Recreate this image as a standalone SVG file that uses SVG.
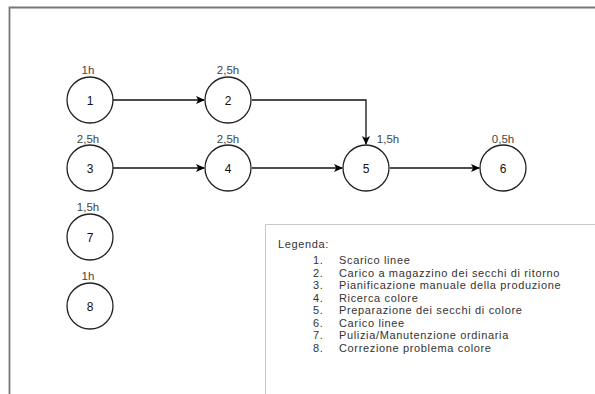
<svg xmlns="http://www.w3.org/2000/svg" width="595" height="394" viewBox="0 0 595 394">
<defs>
<marker id="arr" markerWidth="10" markerHeight="10" refX="8" refY="4" orient="auto" markerUnits="userSpaceOnUse">
<path d="M0,0 L9,4 L0,8 L2.2,4 Z" fill="#000"/>
</marker>
<style>
.node circle{fill:#fff;stroke:#222;stroke-width:1.3}
.num{font-family:"Liberation Sans",Arial,sans-serif;font-size:12px;fill:#111;text-anchor:middle}
.dur{font-family:"Liberation Sans",Arial,sans-serif;font-size:11.5px;fill:#444;text-anchor:middle}
.edge{fill:none;stroke:#111;stroke-width:1.3}
.leg{font-family:"Liberation Sans",Arial,sans-serif;font-size:11px;letter-spacing:0.65px;fill:#333}
</style>
</defs>
<rect width="595" height="394" fill="#fff"/>
<path d="M9.5,394 V7.5 H595" fill="none" stroke="#777" stroke-width="1.8"/>
<g id="connectors">
<path class="edge" d="M113,100 H204" marker-end="url(#arr)"/>
<path class="edge" d="M252,100 H366 V144" marker-end="url(#arr)"/>
<path class="edge" d="M113,168 H204" marker-end="url(#arr)"/>
<path class="edge" d="M252,168 H342" marker-end="url(#arr)"/>
<path class="edge" d="M390,168 H479" marker-end="url(#arr)"/>
</g>
<g id="node1" class="node"><circle cx="90" cy="100" r="23"/><text class="num" x="90" y="104.5">1</text><text class="dur" x="88" y="74">1h</text></g>
<g id="node2" class="node"><circle cx="228" cy="100" r="23"/><text class="num" x="228" y="104.5">2</text><text class="dur" x="228" y="74">2,5h</text></g>
<g id="node3" class="node"><circle cx="90" cy="168" r="23"/><text class="num" x="90" y="172.5">3</text><text class="dur" x="88" y="143">2,5h</text></g>
<g id="node4" class="node"><circle cx="228" cy="168" r="23"/><text class="num" x="228" y="172.5">4</text><text class="dur" x="228" y="143">2,5h</text></g>
<g id="node5" class="node"><circle cx="366" cy="168" r="23"/><text class="num" x="366" y="172.5">5</text><text class="dur" x="388" y="143">1,5h</text></g>
<g id="node6" class="node"><circle cx="503" cy="168" r="23"/><text class="num" x="503" y="172.5">6</text><text class="dur" x="503" y="143">0,5h</text></g>
<g id="node7" class="node"><circle cx="90" cy="237" r="23"/><text class="num" x="90" y="241.5">7</text><text class="dur" x="88" y="211">1,5h</text></g>
<g id="node8" class="node"><circle cx="90" cy="306" r="23"/><text class="num" x="90" y="310.5">8</text><text class="dur" x="88" y="280">1h</text></g>
<g id="legend">
<path d="M265.5,394 V224.5 H595" fill="none" stroke="#c8c8c8" stroke-width="1"/>
<text class="leg" x="278" y="248">Legenda:</text>
<g class="leg">
<text x="313" y="264">1.</text><text x="339" y="264">Scarico linee</text>
<text x="313" y="276.5">2.</text><text x="339" y="276.5">Carico a magazzino dei secchi di ritorno</text>
<text x="313" y="289">3.</text><text x="339" y="289">Pianificazione manuale della produzione</text>
<text x="313" y="301.5">4.</text><text x="339" y="301.5">Ricerca colore</text>
<text x="313" y="314">5.</text><text x="339" y="314">Preparazione dei secchi di colore</text>
<text x="313" y="326.5">6.</text><text x="339" y="326.5">Carico linee</text>
<text x="313" y="339">7.</text><text x="339" y="339">Pulizia/Manutenzione ordinaria</text>
<text x="313" y="351.5">8.</text><text x="339" y="351.5">Correzione problema colore</text>
</g>
</g>
</svg>
